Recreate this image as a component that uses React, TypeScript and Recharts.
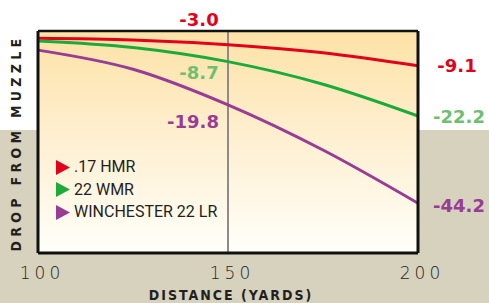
import React from 'react';
import { LineChart, Line, XAxis, YAxis, ReferenceArea, ReferenceLine, Legend, LabelList } from 'recharts';

// Distance (yards) and drop from muzzle (inches)
const distances = [100, 125, 150, 175, 200];
const hmr17 = [-1.9, -2.35, -3.6, -5.7, -9.1];
const wmr22 = [-2.6, -4.3, -8.0, -13.9, -22.2];
const lr22 = [-5.0, -10.0, -19.3, -31.1, -45.0];

// Printed call-out values
const hmrCallouts = ['', '', '-3.0', '', '-9.1'];
const wmrCallouts = ['', '', '-8.7', '', '-22.2'];
const lrCallouts = ['', '', '-19.8', '', '-44.2'];

const seriesNames = ['.17 HMR', '22 WMR', 'WINCHESTER 22 LR'];
const xTicks = [100, 150, 200];
const xDomain = [100, 200];
const yDomain = [-58, 0];

const data = distances.map((d, i) => ({
  d,
  hmr: hmr17[i],
  wmr: wmr22[i],
  lr: lr22[i],
  hmrL: hmrCallouts[i],
  wmrL: wmrCallouts[i],
  lrL: lrCallouts[i],
}));

const RED = '#e3001b';
const GREEN = '#1aab3a';
const PURPLE = '#983c95';
const GREEN_LABEL = '#6ec070';

const makeCallout = (color: string, offsets: Record<number, [number, number]>) => (p: any) => {
  const off = offsets[p.index];
  if (!p.value || !off) return null;
  return (
    <text
      x={p.x + off[0]}
      y={p.y + off[1] + 6.5}
      textAnchor="middle"
      fill={color}
      style={{ fontFamily: 'DejaVu Sans', fontWeight: 700, fontSize: 18 }}
    >
      {p.value}
    </text>
  );
};

const LegendContent = (props: any) => {
  const items = props.payload || [];
  return (
    <div>
      {items.map((e: any, i: number) => (
        <div key={i} style={{ display: 'flex', alignItems: 'center', height: 22.5, lineHeight: '16px' }}>
          <svg width={14} height={15} style={{ display: 'block' }}>
            <polygon points="0,0 14,7.5 0,15" fill={e.color} />
          </svg>
          <span
            style={{
              marginLeft: 4,
              fontFamily: 'Roboto',
              fontSize: 16,
              color: '#231f20',
              whiteSpace: 'nowrap',
            }}
          >
            {e.value}
          </span>
        </div>
      ))}
    </div>
  );
};

export default function App() {
  return (
    <div
      style={{
        position: 'absolute',
        left: 0,
        top: 0,
        width: 489,
        height: 303,
        background: 'linear-gradient(to bottom, #ffffff 0px, #ffffff 130px, #d6d2bd 130px, #d6d2bd 303px)',
      }}
    >
      <LineChart width={489} height={303} data={data} margin={{ top: 31, right: 71, left: 38, bottom: 0 }}>
        <defs>
          <linearGradient id="plotGrad" x1="0" y1="0" x2="0" y2="1">
            <stop offset="0%" stopColor="#fde2a6" />
            <stop offset="50%" stopColor="#fef0d2" />
            <stop offset="100%" stopColor="#fffff9" />
          </linearGradient>
        </defs>
        <XAxis
          dataKey="d"
          type="number"
          domain={xDomain}
          ticks={xTicks}
          height={50}
          axisLine={false}
          tickLine={false}
          tick={{ fill: '#231f20', fontSize: 17, fontFamily: 'DejaVu Sans', fontWeight: 300, letterSpacing: 4, dx: 4, dy: 6 }}
        />
        <YAxis type="number" domain={yDomain} hide width={0} />
        <ReferenceArea x1={xDomain[0]} x2={xDomain[1]} y1={yDomain[0]} y2={yDomain[1]} ifOverflow="visible" fill="url(#plotGrad)" fillOpacity={1} stroke="none" />
        <ReferenceLine x={150} stroke="#8c8c8c" strokeWidth={2} />
        <Line name={seriesNames[0]} dataKey="hmr" type="monotone" stroke={RED} strokeWidth={3} dot={false} isAnimationActive={false}>
          <LabelList dataKey="hmrL" content={makeCallout(RED, { 2: [-29, -25], 4: [39, 0] })} />
        </Line>
        <Line name={seriesNames[1]} dataKey="wmr" type="monotone" stroke={GREEN} strokeWidth={3} dot={false} isAnimationActive={false}>
          <LabelList dataKey="wmrL" content={makeCallout(GREEN_LABEL, { 2: [-29, 11], 4: [41, 1] })} />
        </Line>
        <Line name={seriesNames[2]} dataKey="lr" type="monotone" stroke={PURPLE} strokeWidth={3} dot={false} isAnimationActive={false}>
          <LabelList dataKey="lrL" content={makeCallout(PURPLE, { 2: [-35, 17], 4: [41, 2] })} />
        </Line>
        <ReferenceLine x={xDomain[0]} ifOverflow="visible" stroke="#111" strokeWidth={3} />
        <ReferenceLine x={xDomain[1]} ifOverflow="visible" stroke="#111" strokeWidth={3} />
        <ReferenceLine y={yDomain[1]} ifOverflow="visible" stroke="#111" strokeWidth={2.5} />
        <ReferenceLine y={yDomain[0]} ifOverflow="visible" stroke="#111" strokeWidth={3} />
        <Legend
          layout="vertical"
          align="center"
          verticalAlign="middle"
          content={LegendContent}
          wrapperStyle={{ left: 56, top: 156, width: 200, height: 70 }}
        />
        <text
          x={231}
          y={300}
          textAnchor="middle"
          fill="#231f20"
          style={{ fontFamily: 'Liberation Sans Narrow, DejaVu Sans Condensed, DejaVu Sans', fontWeight: 700, fontSize: 14, letterSpacing: 2 }}
        >
          DISTANCE (YARDS)
        </text>
        <text
          x={0}
          y={0}
          transform="translate(21, 143) rotate(-90)"
          textAnchor="middle"
          fill="#231f20"
          style={{ fontFamily: 'Liberation Sans Narrow, DejaVu Sans Condensed, DejaVu Sans', fontWeight: 700, fontSize: 14, letterSpacing: 4.3 }}
        >
          DROP FROM MUZZLE
        </text>
      </LineChart>
    </div>
  );
}
